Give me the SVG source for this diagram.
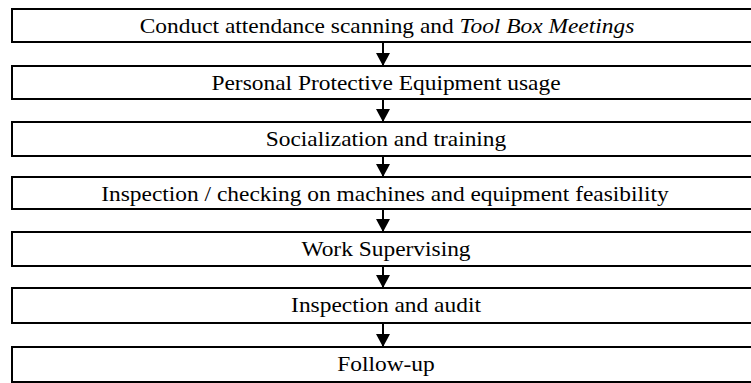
<svg xmlns="http://www.w3.org/2000/svg" width="751" height="383" viewBox="0 0 751 383">
<style>
.box{fill:#fff;stroke:#000;stroke-width:2}
.lbl{font-family:"Liberation Serif","DejaVu Serif",serif;font-size:21px;fill:#000;text-anchor:middle}
.ln{stroke:#000;stroke-width:2;fill:none}
</style>
<defs>
<marker id="ah" markerWidth="6.5" markerHeight="7" refX="6.5" refY="3.5" orient="auto" markerUnits="strokeWidth">
<path d="M0,0 L6.5,3.5 L0,7 Z" fill="#000"/>
</marker>
</defs>
<rect width="751" height="383" fill="#fff"/>
<g id="connectors">
<line class="ln" x1="383" y1="42" x2="383" y2="66" marker-end="url(#ah)"/>
<line class="ln" x1="383" y1="99" x2="383" y2="122" marker-end="url(#ah)"/>
<line class="ln" x1="383" y1="156" x2="383" y2="177" marker-end="url(#ah)"/>
<line class="ln" x1="383" y1="209" x2="383" y2="232" marker-end="url(#ah)"/>
<line class="ln" x1="383" y1="266" x2="383" y2="288" marker-end="url(#ah)"/>
<line class="ln" x1="383" y1="323" x2="383" y2="347" marker-end="url(#ah)"/>
</g>
<g id="n1"><rect class="box" x="12" y="9" width="750" height="33"/><text class="lbl" transform="translate(387,33) scale(1.115,1)">Conduct attendance scanning and <tspan font-style="italic">Tool Box Meetings</tspan></text></g>
<g id="n2"><rect class="box" x="12" y="66" width="750" height="33"/><text class="lbl" transform="translate(386,90) scale(1.115,1)">Personal Protective Equipment usage</text></g>
<g id="n3"><rect class="box" x="12" y="122" width="750" height="34"/><text class="lbl" transform="translate(386,146) scale(1.115,1)">Socialization and training</text></g>
<g id="n4"><rect class="box" x="12" y="177" width="750" height="32"/><text class="lbl" transform="translate(385,201) scale(1.115,1)">Inspection / checking on machines and equipment feasibility</text></g>
<g id="n5"><rect class="box" x="12" y="232" width="750" height="34"/><text class="lbl" transform="translate(386,256) scale(1.115,1)">Work Supervising</text></g>
<g id="n6"><rect class="box" x="12" y="288" width="750" height="35"/><text class="lbl" transform="translate(386,312) scale(1.115,1)">Inspection and audit</text></g>
<g id="n7"><rect class="box" x="12" y="347" width="750" height="35"/><text class="lbl" transform="translate(386,371) scale(1.115,1)">Follow-up</text></g>
</svg>
